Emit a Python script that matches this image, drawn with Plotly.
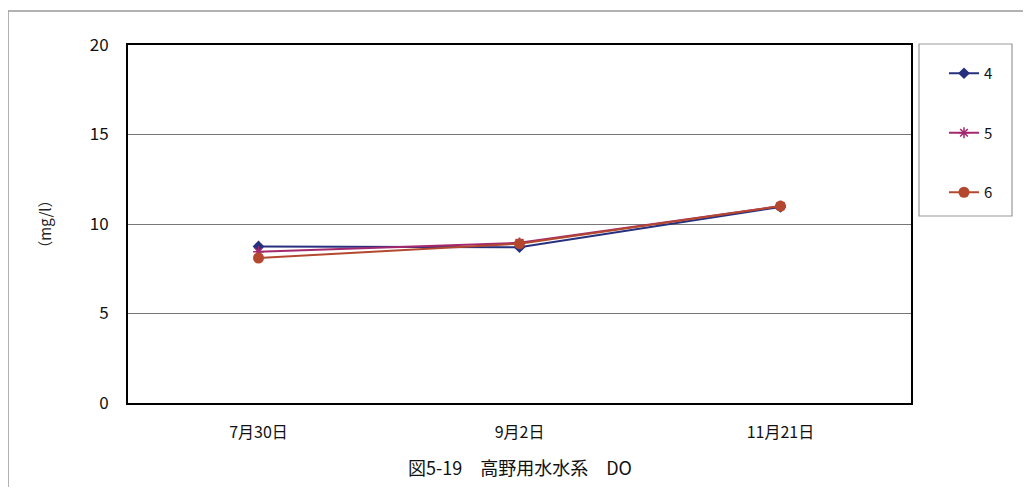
import plotly.graph_objects as go

categories = ["7月30日", "9月2日", "11月21日"]
s4 = [8.75, 8.7, 10.95]
s5 = [8.45, 8.95, 11.0]
s6 = [8.1, 8.9, 11.0]
names = ["4", "5", "6"]
yticks = [0, 5, 10, 15, 20]

font = "Noto Sans CJK JP, Noto Sans, Arial"

# figure-space layout (page has an 8px body offset)
W, H = 1015, 479
L, T = 120, 37
PW = 903 - L
PH = 395 - T
R = W - L - PW
B = H - T - PH

def px(x):
    return (x - L) / PW

def py(y):
    return (T + PH - y) / PH

fig = go.Figure()
fig.add_trace(go.Scatter(x=categories, y=s4, name=names[0], mode="lines+markers",
                         line=dict(color="#27307f", width=2),
                         marker=dict(symbol="diamond", size=9, color="#27307f"),
                         legendgroup="a"))
fig.add_trace(go.Scatter(x=categories, y=s5, name=names[1], mode="lines+markers",
                         line=dict(color="#a3286e", width=2),
                         marker=dict(symbol="asterisk-open", size=9, color="#a3286e",
                                     line=dict(color="#a3286e", width=1.5)),
                         legendgroup="b"))
fig.add_trace(go.Scatter(x=categories, y=s6, name=names[2], mode="lines+markers",
                         line=dict(color="#b4482f", width=2),
                         marker=dict(symbol="circle", size=11, color="#b4482f"),
                         legendgroup="c"))

fig.update_layout(
    width=W, height=H,
    margin=dict(l=L, r=R, t=T, b=B, autoexpand=False),
    paper_bgcolor="white", plot_bgcolor="white",
    font=dict(family=font, size=14, color="#222"),
    showlegend=True,
    legend=dict(x=px(936), xanchor="left", y=py(49), yanchor="top",
                borderwidth=0, bgcolor="rgba(0,0,0,0)",
                tracegroupgap=37, font=dict(size=15, color="#111")),
    xaxis=dict(type="category", range=[-0.5, 2.5], showline=True, linecolor="black",
               linewidth=2, mirror=True, showgrid=False, ticks="",
               ticklabelstandoff=14, tickfont=dict(size=16, color="#111")),
    yaxis=dict(range=[0, 20], tickvals=yticks, showline=True, linecolor="black",
               linewidth=2, mirror=True, showgrid=True, gridcolor="#777",
               gridwidth=1, ticks="", ticklabelstandoff=14,
               tickfont=dict(size=17, color="#111"),
               title=dict(text="（mg/l）", font=dict(size=15), standoff=34)),
)

fig.add_annotation(text="図5-19\u3000高野用水水系\u3000DO", xref="paper", yref="paper",
                   x=0.5, y=py(459), xanchor="center", yanchor="middle",
                   showarrow=False, font=dict(size=18, family=font, color="#111"))

# legend box
fig.add_shape(type="rect", xref="paper", yref="paper",
              x0=px(911), x1=px(1004), y0=py(208), y1=py(36),
              line=dict(color="#999", width=1.2), fillcolor="rgba(0,0,0,0)")

# outer frame
fig.add_shape(type="rect", xref="paper", yref="paper",
              x0=px(0), x1=px(1040), y0=py(520), y1=py(3),
              line=dict(color="#999", width=1.5), fillcolor="rgba(0,0,0,0)", layer="below")

fig.write_html("out.html")
